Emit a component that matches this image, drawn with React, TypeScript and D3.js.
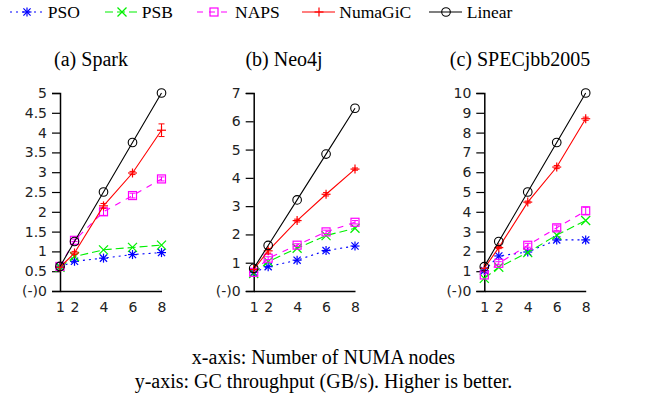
import React, { useEffect, useRef } from 'react'
import * as d3 from 'd3'

// x values (NUMA nodes)
const nodes = [1, 2, 4, 6, 8]
const seriesNames = ['PSO', 'PSB', 'NAPS', 'NumaGiC', 'Linear']
const panelTitles = ['(a) Spark', '(b) Neo4j', '(c) SPECjbb2005']
const yMaxes = [5, 7, 10]
const yStepSizes = [0.5, 1, 1]

// Spark
const sparkPSO = [0.61, 0.75, 0.83, 0.92, 0.97]
const sparkPSB = [0.6, 0.87, 1.04, 1.1, 1.16]
const sparkNAPS = [0.62, 1.28, 2.0, 2.41, 2.83]
const sparkNumaGiC = [0.6, 0.96, 2.15, 2.98, 4.06]
const sparkLinear = [0.62, 1.25, 2.5, 3.75, 5.0]
const sparkNAPSErr = [0, 0.03, 0.09, 0.06, 0.05]
const sparkNumaGiCErr = [0, 0.04, 0.06, 0.04, 0.16]

// Neo4j
const neoPSO = [0.66, 0.86, 1.09, 1.43, 1.59]
const neoPSB = [0.62, 1.04, 1.51, 1.96, 2.22]
const neoNAPS = [0.66, 1.16, 1.62, 2.09, 2.43]
const neoNumaGiC = [0.76, 1.42, 2.49, 3.42, 4.31]
const neoLinear = [0.8, 1.61, 3.22, 4.84, 6.46]
const neoNAPSErr = [0, 0.05, 0.05, 0.06, 0.06]
const neoNumaGiCErr = [0, 0.08, 0.05, 0.06, 0.04]

// SPECjbb2005
const specPSO = [1.03, 1.77, 1.97, 2.58, 2.58]
const specPSB = [0.64, 1.2, 1.94, 2.83, 3.56]
const specNAPS = [0.81, 1.4, 2.31, 3.19, 4.05]
const specNumaGiC = [1.15, 2.19, 4.49, 6.26, 8.7]
const specLinear = [1.23, 2.5, 5.0, 7.5, 10.0]
const specNAPSErr = [0, 0.08, 0.1, 0.14, 0.18]
const specNumaGiCErr = [0, 0.05, 0.05, 0.08, 0.08]

const panelData = [
  [sparkPSO, sparkPSB, sparkNAPS, sparkNumaGiC, sparkLinear],
  [neoPSO, neoPSB, neoNAPS, neoNumaGiC, neoLinear],
  [specPSO, specPSB, specNAPS, specNumaGiC, specLinear],
]
const panelErrs = [
  [null, null, sparkNAPSErr, sparkNumaGiCErr, null],
  [null, null, neoNAPSErr, neoNumaGiCErr, null],
  [null, null, specNAPSErr, specNumaGiCErr, null],
]

const colors = ['#0000ff', '#00f000', '#ff00ff', '#ff0000', '#000000']
const dashes = ['2,4', '8,4', '6,6', null, null]
const markers = ['star', 'cross', 'square', 'plus', 'circle']

// layout
const W = 647
const H = 402
const plotTop = 93
const plotBottom = 291
const plotLefts = [60, 253.7, 484.3]
const plotRights = [161.5, 355, 585.7]
const titleCenters = [91, 284, 520]
const legendLineX = [10, 105, 197, 302, 429]
const legendTextX = [47.7, 141.7, 235, 339.3, 466.7]

const serif = '"Liberation Serif", "Times New Roman", serif'
const sans = '"DejaVu Sans", sans-serif'

function drawMarker(g, type, x, y, color) {
  const s = 4.5
  const add = (x1, y1, x2, y2) =>
    g.append('line').attr('x1', x1).attr('y1', y1).attr('x2', x2).attr('y2', y2)
      .attr('stroke', color).attr('stroke-width', 1.2)
  if (type === 'star') {
    add(x - s, y, x + s, y)
    add(x, y - s, x, y + s)
    add(x - s * 0.8, y - s * 0.8, x + s * 0.8, y + s * 0.8)
    add(x - s * 0.8, y + s * 0.8, x + s * 0.8, y - s * 0.8)
  } else if (type === 'cross') {
    add(x - s, y - s, x + s, y + s)
    add(x - s, y + s, x + s, y - s)
  } else if (type === 'plus') {
    add(x - s, y, x + s, y)
    add(x, y - s, x, y + s)
  } else if (type === 'square') {
    g.append('rect').attr('x', x - 4).attr('y', y - 4).attr('width', 8).attr('height', 8)
      .attr('fill', 'none').attr('stroke', color).attr('stroke-width', 1.2)
  } else if (type === 'circle') {
    g.append('circle').attr('cx', x).attr('cy', y).attr('r', 4.3)
      .attr('fill', 'none').attr('stroke', color).attr('stroke-width', 1.1)
  }
}

export default function App() {
  const ref = useRef(null)

  useEffect(() => {
    document.body.style.margin = '0'
    const svg = d3.select(ref.current)
    svg.selectAll('*').remove()

    // legend
    const legend = svg.append('g')
    seriesNames.forEach((name, i) => {
      const lx = legendLineX[i]
      const ly = 12
      legend.append('line')
        .attr('x1', lx).attr('x2', lx + 33).attr('y1', ly).attr('y2', ly)
        .attr('stroke', colors[i]).attr('stroke-width', 1.2)
        .attr('stroke-dasharray', dashes[i])
      drawMarker(legend, markers[i], lx + 17, ly, colors[i])
      legend.append('text')
        .attr('x', legendTextX[i]).attr('y', 18)
        .attr('font-family', serif).attr('font-size', 17.5)
        .text(name)
    })

    panelTitles.forEach((title, p) => {
      const x = d3.scaleLinear().domain([1, 8]).range([plotLefts[p], plotRights[p]])
      const y = d3.scaleLinear().domain([0, yMaxes[p]]).range([plotBottom, plotTop])
      const g = svg.append('g')

      g.append('text')
        .attr('x', titleCenters[p]).attr('y', 66)
        .attr('text-anchor', 'middle')
        .attr('font-family', serif).attr('font-size', 20)
        .text(title)

      const yTicks = d3.range(0, yMaxes[p] + yStepSizes[p] / 2, yStepSizes[p])
      const yAxis = g.append('g')
        .attr('transform', 'translate(' + plotLefts[p] + ',0)')
        .call(d3.axisLeft(y).tickValues(yTicks).tickSize(8).tickPadding(5)
          .tickFormat(d => (d === 0 ? '(-)0' : String(+d.toFixed(1)))))
      yAxis.select('.domain').attr('stroke-width', 1.5)
      yAxis.selectAll('.tick line').attr('stroke-width', 1.2)
      yAxis.selectAll('text').attr('font-family', sans).attr('font-size', 14).attr('fill', '#222')

      const xAxis = g.append('g')
        .attr('transform', 'translate(0,' + plotBottom + ')')
        .call(d3.axisBottom(x).tickValues(nodes).tickSize(0).tickPadding(11).tickFormat(d3.format('d')))
      xAxis.select('.domain').attr('stroke-width', 1.5)
      xAxis.selectAll('text').attr('font-family', sans).attr('font-size', 14).attr('fill', '#222')

      const line = d3.line()
        .x((d, i) => x(nodes[i]))
        .y(d => y(d))

      panelData[p].forEach((vals, s) => {
        g.append('path')
          .datum(vals)
          .attr('d', line)
          .attr('fill', 'none')
          .attr('stroke', colors[s])
          .attr('stroke-width', 1.1)
          .attr('stroke-dasharray', dashes[s])
        const errs = panelErrs[p][s]
        vals.forEach((v, i) => {
          const cx = x(nodes[i])
          const cy = y(v)
          if (errs && errs[i] > 0) {
            const y1 = y(v - errs[i])
            const y2 = y(v + errs[i])
            g.append('line').attr('x1', cx).attr('x2', cx).attr('y1', y1).attr('y2', y2)
              .attr('stroke', colors[s]).attr('stroke-width', 1)
            ;[y1, y2].forEach(yy => {
              g.append('line').attr('x1', cx - 3).attr('x2', cx + 3).attr('y1', yy).attr('y2', yy)
                .attr('stroke', colors[s]).attr('stroke-width', 1)
            })
          }
          drawMarker(g, markers[s], cx, cy, colors[s])
        })
      })
    })

    svg.append('text')
      .attr('x', W / 2).attr('y', 364)
      .attr('text-anchor', 'middle')
      .attr('font-family', serif).attr('font-size', 20)
      .text('x-axis: Number of NUMA nodes')
    svg.append('text')
      .attr('x', W / 2).attr('y', 388)
      .attr('text-anchor', 'middle')
      .attr('font-family', serif).attr('font-size', 20)
      .text('y-axis: GC throughput (GB/s). Higher is better.')
  }, [])

  return (
    <svg ref={ref} width={W} height={H} style={{ display: 'block', background: '#fff' }}></svg>
  )
}
